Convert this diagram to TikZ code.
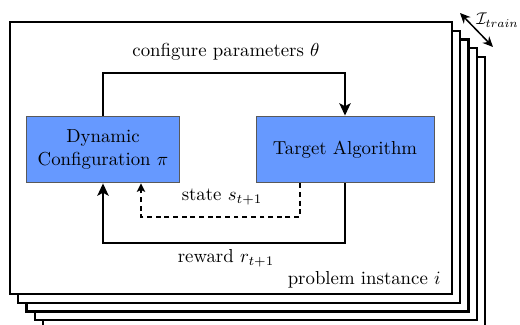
\documentclass[tikz,border=0pt]{standalone}
\usetikzlibrary{arrows.meta}
\definecolor{boxblue}{RGB}{102,153,255}
\begin{document}
\begin{tikzpicture}[x=0.532pt,y=-0.532pt,
  frame/.style={draw=black,fill=white,line width=1.25pt},
  blockbox/.style={draw=black!65,fill=boxblue,line width=0.5pt,align=center,minimum height=35.6pt,inner sep=0pt},
  flow/.style={line width=1.1pt,-{Stealth[length=6.5pt,width=6pt,inset=1.5pt]}},
  dflow/.style={line width=0.8pt,dash pattern=on 2.6pt off 2pt,-{Stealth[length=4.5pt,width=4.5pt,inset=1pt]}},
  lbl/.style={inner sep=0pt}]
\useasboundingbox (0,0) rectangle (520,325);
% stacked problem instances
\foreach \k in {4,3,2,1,0}{
  \draw[frame] ({10+8.25*\k},{22+8.75*\k}) rectangle ++(442,272);
}
% blocks
\node[blockbox,minimum width=80.9pt] (dyn) at (103,149.5) {Dynamic\\Configuration $\pi$};
\node[blockbox,minimum width=94.7pt] (tgt) at (345,149.5) {Target Algorithm};
% connectors
\coordinate (topy) at (0,73);
\coordinate (boty) at (0,243);
\coordinate (dx1) at (300,217);
\coordinate (dx2) at (141,217);
\draw[flow] (dyn.north) -- (dyn.north |- topy) -- (tgt.north |- topy) -- (tgt.north);
\draw[flow] (tgt.south) -- (tgt.south |- boty) -- (dyn.south |- boty) -- (dyn.south);
\draw[dflow] (tgt.south -| dx1) -- (dx1) -- (dx2) -- (dyn.south -| dx2);
% labels
\node[lbl] (cfg) at (226,52) {configure parameters $\theta$};
\node[lbl] (st) at (222,197) {state $s_{t+1}$};
\node[lbl] (rw) at (226,258) {reward $r_{t+1}$};
\node[lbl,anchor=east] (pi) at (441,280) {problem instance $i$};
% instance set arrow
\coordinate (ia) at (460,13);
\coordinate (ib) at (493,47);
\draw[line width=0.8pt,{Stealth[length=5.5pt,width=5pt]}-{Stealth[length=5.5pt,width=5pt]}] (ia) -- (ib);
\node[lbl,anchor=east,scale=0.9] (it) at (519,20) {$\mathcal{I}_{train}$};
\end{tikzpicture}
\end{document}
